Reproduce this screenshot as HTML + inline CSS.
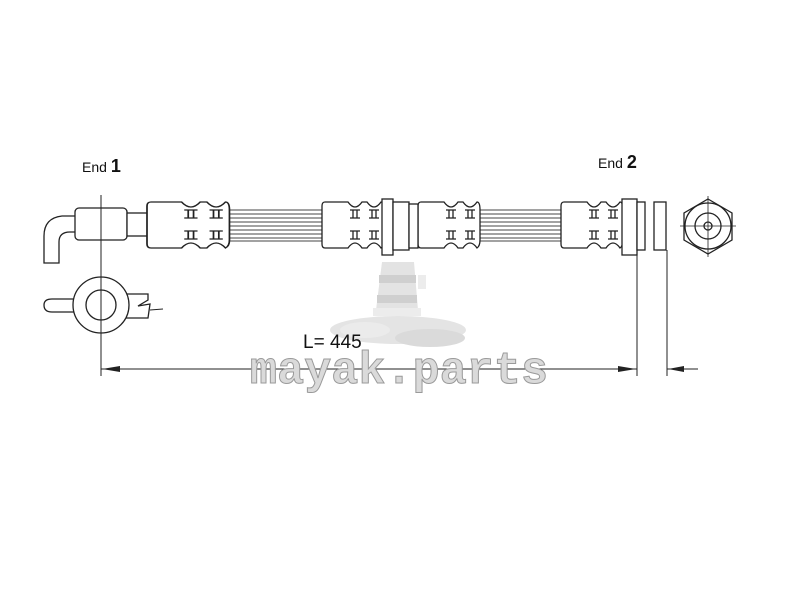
<!DOCTYPE html>
<html><head><style>
html,body{margin:0;padding:0;background:#fff;}
svg{display:block;}
</style></head><body>
<svg width="798" height="600" viewBox="0 0 798 600" xmlns="http://www.w3.org/2000/svg">
<defs>
<g id="fer">
  <path d="M3,202 Q0,202 0,206 L0,244 Q0,248 3,248 L26,248 Q33,238 40,248 L45,248 Q52,238 59,248 Q62,246 62,240 L62,210 Q62,202 59,202 Q52,212 45,202 L40,202 Q33,212 26,202 Z" fill="#fff" stroke="#222" stroke-width="1.3"/>
  <g stroke="#222" stroke-width="1.3" fill="none">
    <path d="M28,210 h10 M31,210 v8 M35,210 v8 M28,218 h10"/>
    <path d="M47,210 h10 M50,210 v8 M54,210 v8 M47,218 h10"/>
    <path d="M28,231 h10 M31,231 v8 M35,231 v8 M28,239 h10"/>
    <path d="M47,231 h10 M50,231 v8 M54,231 v8 M47,239 h10"/>
  </g>
</g>
</defs>

<!-- lighthouse watermark -->
<g stroke="none">
  <polygon points="382,262 414,262 418,310 376,310" fill="#e3e3e3"/>
  <rect x="379" y="275" width="37" height="8" fill="#cfcfcf"/>
  <rect x="377" y="295" width="40" height="8" fill="#cfcfcf"/>
  <rect x="373" y="308" width="48" height="8" fill="#ececec"/>
  <rect x="418" y="275" width="8" height="14" fill="#ececec"/>
  <ellipse cx="398" cy="330" rx="68" ry="14" fill="#e4e4e4"/>
  <ellipse cx="430" cy="338" rx="35" ry="9" fill="#dadada"/>
  <ellipse cx="365" cy="330" rx="25" ry="8" fill="#ebebeb"/>
</g>

<g fill="none" stroke="#222" stroke-width="1.3">
  <path d="M75,216 L62,216 Q44,218 44,236 L44,263 L59,263 L59,242 Q59,232 70,232 L75,232"/>
  <rect x="75" y="208" width="52" height="32" rx="4" fill="#fff"/>
  <rect x="127" y="213" width="21" height="23" fill="#fff"/>
  <g stroke-width="0.9" stroke="#444">
    <line x1="229" y1="210" x2="322" y2="210"/><line x1="229" y1="214" x2="322" y2="214"/>
    <line x1="229" y1="218" x2="322" y2="218"/><line x1="229" y1="222" x2="322" y2="222"/>
    <line x1="229" y1="226" x2="322" y2="226"/><line x1="229" y1="230" x2="322" y2="230"/>
    <line x1="229" y1="234" x2="322" y2="234"/><line x1="229" y1="238" x2="322" y2="238"/>
    <line x1="229" y1="241" x2="322" y2="241"/>
    <line x1="480" y1="210" x2="561" y2="210"/><line x1="480" y1="214" x2="561" y2="214"/>
    <line x1="480" y1="218" x2="561" y2="218"/><line x1="480" y1="222" x2="561" y2="222"/>
    <line x1="480" y1="226" x2="561" y2="226"/><line x1="480" y1="230" x2="561" y2="230"/>
    <line x1="480" y1="234" x2="561" y2="234"/><line x1="480" y1="238" x2="561" y2="238"/>
    <line x1="480" y1="241" x2="561" y2="241"/>
  </g>
</g>
<use href="#fer" transform="translate(147,0) scale(1.33,1)"/>
<use href="#fer" x="322"/>
<use href="#fer" x="418"/>
<use href="#fer" x="561"/>
<g fill="#fff" stroke="#222" stroke-width="1.3">
  <rect x="382" y="199" width="11" height="56"/>
  <rect x="393" y="202" width="16" height="48"/>
  <rect x="409" y="204" width="9" height="44"/>
  <rect x="622" y="199" width="15" height="56"/>
  <rect x="637" y="202" width="8" height="48"/>
  <rect x="654" y="202" width="12" height="48"/>
</g>
<g fill="none" stroke="#222" stroke-width="1.3">
  <polygon points="708,199 732,213 732,240 708,254 684,240 684,213"/>
  <circle cx="708" cy="226" r="23"/>
  <circle cx="708" cy="226" r="13"/>
  <circle cx="708" cy="226" r="4"/>
  <line x1="680" y1="226" x2="736" y2="226" stroke-width="0.8"/>
  <line x1="708" y1="196" x2="708" y2="257" stroke-width="0.8"/>
</g>
<g fill="#fff" stroke="#222" stroke-width="1.3">
  <path d="M75,299 L52,299 Q44,299 44,305 Q44,312 52,312 L75,312"/>
  <path d="M126,294 L148,294 L148,300 L138,306 L150,304 L148,318 L126,318"/>
  <circle cx="101" cy="305" r="28"/>
  <circle cx="101" cy="305" r="15"/>
</g>
<line x1="150" y1="310" x2="163" y2="309" stroke="#222" stroke-width="1"/>
<g stroke="#222" stroke-width="1" fill="none">
  <line x1="101" y1="195" x2="101" y2="376"/>
  <line x1="637" y1="255" x2="637" y2="376"/>
  <line x1="667" y1="250" x2="667" y2="376"/>
  <line x1="101" y1="369" x2="637" y2="369"/>
  <line x1="667" y1="369" x2="698" y2="369"/>
</g>
<g fill="#222">
  <polygon points="102,369 120,366 120,372"/>
  <polygon points="636,369 618,366 618,372"/>
  <polygon points="668,369 684,366 684,372"/>
</g>
<g font-family="Liberation Sans, sans-serif" fill="#111">
  <text x="82" y="172" font-size="14">End <tspan font-size="18" font-weight="bold">1</tspan></text>
  <text x="598" y="168" font-size="14">End <tspan font-size="18" font-weight="bold">2</tspan></text>
  <text x="303" y="348" font-size="19">L= 445</text>
</g>
<text x="250" y="383" font-family="Liberation Mono, monospace" font-weight="bold" font-size="45" fill="#dadada" stroke="#9a9a9a" stroke-width="1" textLength="298">mayak.parts</text>
</svg>
</body></html>
